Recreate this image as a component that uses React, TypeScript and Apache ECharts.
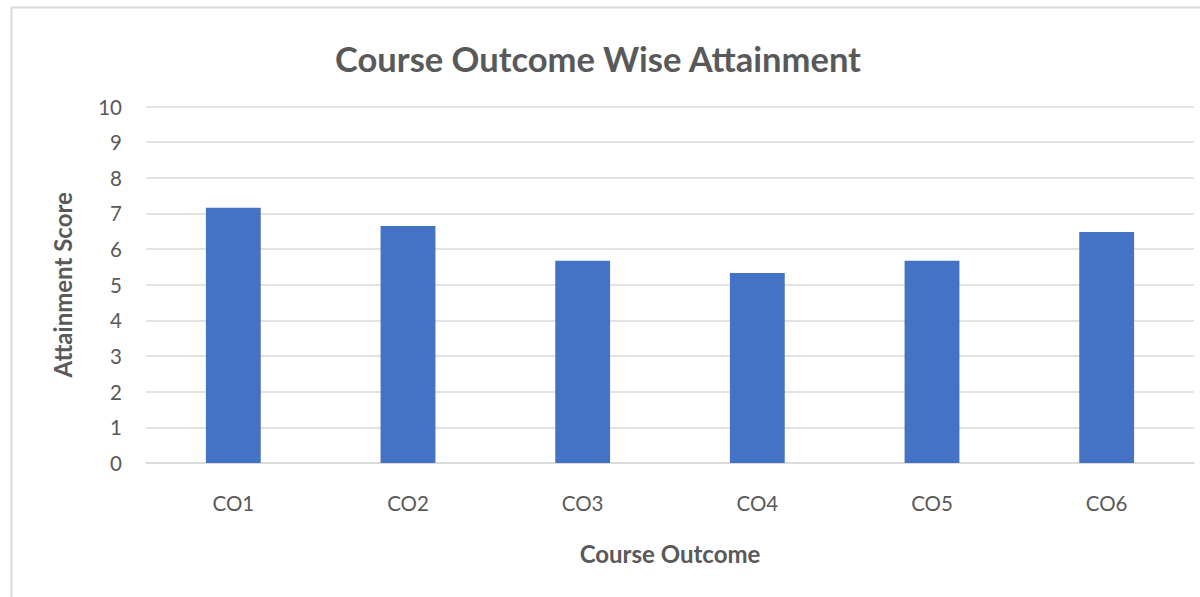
import React, { useEffect, useRef } from "react";
import * as echarts from "echarts";

const categories = ["CO1", "CO2", "CO3", "CO4", "CO5", "CO6"];
const attainment = [7.16, 6.65, 5.67, 5.33, 5.67, 6.48];

const FONT = "Lato, 'Liberation Sans', sans-serif";
const TEXT = "#595959";

export default function App() {
  const ref = useRef<HTMLDivElement>(null);
  useEffect(() => {
    if (!ref.current) return;
    const chart = echarts.init(ref.current, undefined, { renderer: "svg" });
    chart.setOption({
      animation: false,
      backgroundColor: "#ffffff",
      title: {
        text: "Course Outcome Wise Attainment",
        left: 593,
        top: 36,
        textAlign: "center",
        textStyle: { fontFamily: FONT, fontSize: 34.5, fontWeight: "bold", color: TEXT },
      },
      graphic: [
        {
          type: "rect",
          shape: { x: 11.5, y: 7.5, width: 1300, height: 700 },
          style: { fill: "none", stroke: "#d9d9d9", lineWidth: 2 },
          silent: true,
          z: -1,
        },
      ],
      grid: { left: 146, right: 6, top: 106.5, bottom: 597 - 463 },
      xAxis: {
        type: "category",
        data: categories,
        name: "Course Outcome",
        nameLocation: "middle",
        nameGap: 78,
        nameTextStyle: { fontFamily: FONT, fontSize: 24, fontWeight: "bold", color: TEXT },
        axisLine: { lineStyle: { color: "#d9d9d9", width: 1.5 } },
        axisTick: { show: false },
        axisLabel: { fontFamily: FONT, fontSize: 20.5, color: TEXT, margin: 29 },
      },
      yAxis: {
        type: "value",
        min: 0,
        max: 10,
        interval: 1,
        name: "Attainment Score",
        nameLocation: "middle",
        nameGap: 72,
        nameTextStyle: { fontFamily: FONT, fontSize: 24, fontWeight: "bold", color: TEXT },
        axisLine: { show: false },
        axisTick: { show: false },
        axisLabel: { fontFamily: FONT, fontSize: 20.5, color: TEXT, margin: 24 },
        splitLine: { lineStyle: { color: "#d9d9d9", width: 1.5 } },
      },
      series: [
        {
          type: "bar",
          data: attainment,
          barWidth: "31.4%",
          itemStyle: { color: "#4472C4" },
        },
      ],
    });
    return () => chart.dispose();
  }, []);
  return (
    <div
      ref={ref}
      style={{ position: "fixed", left: 0, top: 0, width: 1200, height: 597 }}
    />
  );
}
